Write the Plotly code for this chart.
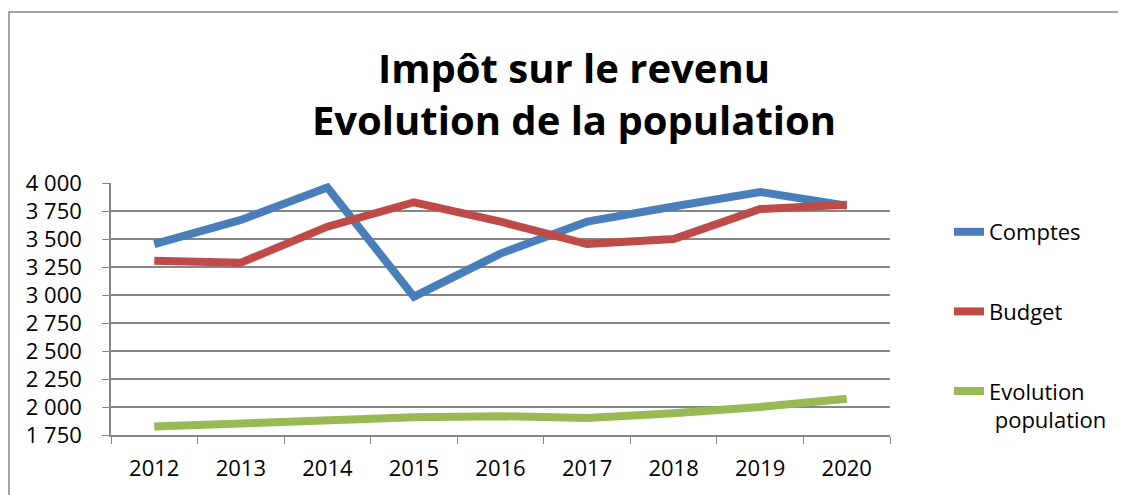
import plotly.graph_objects as go

years = ["2012", "2013", "2014", "2015", "2016", "2017", "2018", "2019", "2020"]
comptes = [3455, 3670, 3960, 2985, 3370, 3655, 3790, 3920, 3797]
budget = [3306, 3288, 3610, 3828, 3655, 3455, 3500, 3768, 3805]
population = [1825, 1855, 1890, 1908, 1918, 1902, 1944, 2000, 2074]

series_names = ["Comptes", "Budget", "Evolution<br> population"]
series_colors = ["#4A7EBB", "#BE4B48", "#98B954"]
series_values = [comptes, budget, population]

OFF = 8  # page body margin
W, H = 1126 - OFF, 495 - OFF
# plot area in page pixels
PL, PR, PT, PB = 111, 890, 183, 435
L, R, T, B = PL - OFF, PR - OFF, PT - OFF, PB - OFF

def px_x(x):
    return (x - OFF - L) / (R - L)

def px_y(y):
    return (B - (y - OFF)) / (B - T)

fig = go.Figure()
for i, (name, col, vals) in enumerate(zip(series_names, series_colors, series_values)):
    fig.add_trace(go.Scatter(
        x=years, y=vals, name=name, mode="lines",
        line=dict(color=col, width=8),
        legendgroup=str(i),
    ))

font = "Open Sans"
fig.update_layout(
    width=W, height=H,
    margin=dict(l=L, r=W - R, t=T, b=H - B),
    paper_bgcolor="white", plot_bgcolor="white",
    separators=", ",
    title=dict(
        text="<b>Impôt sur le revenu<br>Evolution de la population</b>",
        x=(574 - OFF) / W, xanchor="center",
        y=1 - (83 - OFF) / H, yanchor="middle",
        font=dict(family=font, size=40, color="black"),
    ),
    showlegend=True,
    legend=dict(
        x=px_x(949), xanchor="left",
        y=px_y(211), yanchor="top",
        font=dict(family=font, size=22, color="black"),
        tracegroupgap=48,
        traceorder="grouped",
        itemwidth=30,
        valign="top",
        bgcolor="rgba(0,0,0,0)",
    ),
    xaxis=dict(
        type="category",
        range=[-0.5, 8.5],
        showgrid=False,
        showline=True, linecolor="#868686", linewidth=1.5,
        ticks="outside", tickson="boundaries", ticklen=7, tickcolor="#868686",
        ticklabelstandoff=13,
        tickfont=dict(family=font, size=22, color="black"),
    ),
    yaxis=dict(
        range=[1750, 4000], dtick=250, tick0=1750,
        tickformat=",d",
        showgrid=True, gridcolor="#868686", gridwidth=1.5,
        showline=True, linecolor="#868686", linewidth=1.5,
        ticks="outside", ticklen=7, tickcolor="#868686",
        ticklabelstandoff=16,
        tickfont=dict(family=font, size=22, color="black"),
        zeroline=False,
    ),
    shapes=[dict(
        type="rect", xref="paper", yref="paper",
        x0=px_x(9), x1=px_x(1150),
        y0=px_y(520), y1=px_y(12),
        line=dict(color="#868686", width=1.5), fillcolor="rgba(0,0,0,0)",
        layer="below",
    )],
)

fig.write_html("out.html")
